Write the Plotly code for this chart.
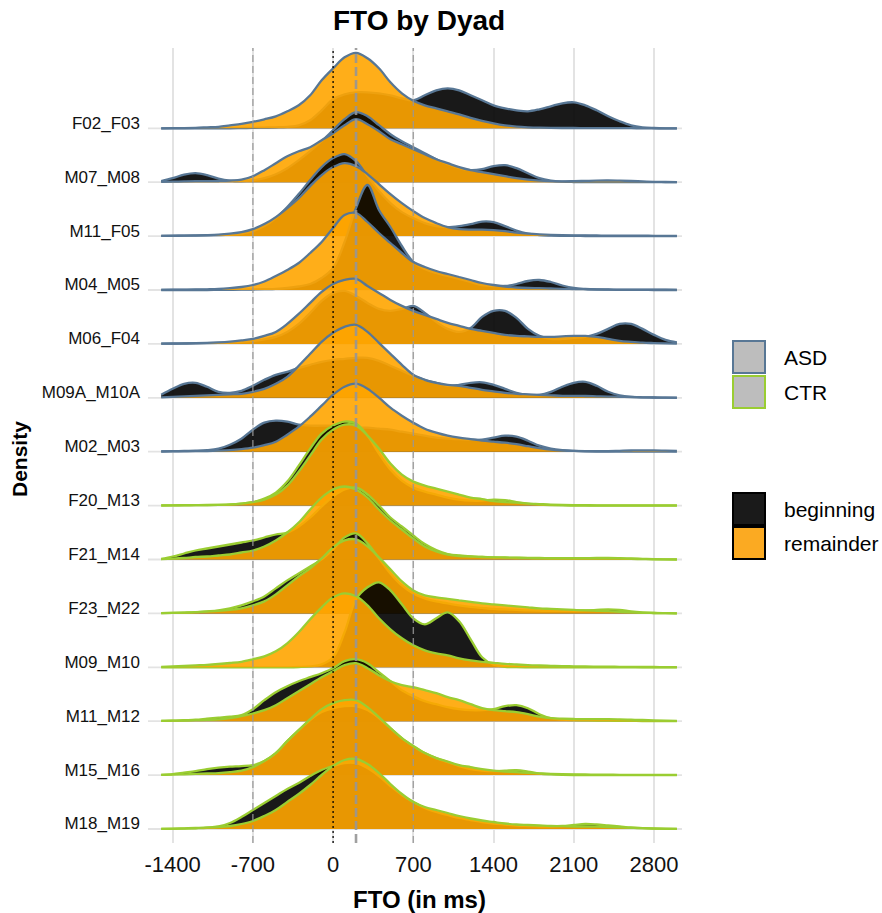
import plotly.graph_objects as go

# ---------------- data ----------------
fto_ms = list(range(-1500, 3001, 100))          # density evaluation grid (ms)
x_ticks = [-1400, -700, 0, 700, 1400, 2100, 2800]
x_tick_labels = ["-1400", "-700", "0", "700", "1400", "2100", "2800"]

dyads = ["F02_F03", "M07_M08", "M11_F05", "M04_M05", "M06_F04", "M09A_M10A", "M02_M03",
         "F20_M13", "F21_M14", "F23_M22", "M09_M10", "M11_M12", "M15_M16", "M18_M19"]
dyad_group = ["ASD"] * 7 + ["CTR"] * 7
phases = ["beginning", "remainder"]

# ridge heights (arbitrary density units) at each fto_ms point
F02_F03_beginning = [0, 0, 0, 0, 0, 0, 0, 0.2, 0.4, 0.7, 1, 1.5, 3, 8, 18, 29, 34, 36, 36, 35, 33, 30, 28, 33, 38, 40, 38, 33, 28, 23, 20, 18, 17, 19, 22, 25, 26, 23, 18, 12, 7, 3, 1, 0.3, 0, 0]
F02_F03_remainder = [0, 0.1, 0.2, 0.5, 1, 1.5, 3, 4.5, 6.5, 9, 12, 17, 23, 33, 48, 60, 71, 75.5, 70, 60, 46, 35, 27.5, 23, 20, 17, 14, 10.5, 7.5, 5, 3, 1.7, 1, 0.6, 0.4, 0.3, 0.3, 0.2, 0.2, 0.1, 0.1, 0.1, 0, 0, 0, 0]

M07_M08_beginning = [1, 4, 7.5, 9, 7, 3.5, 1.5, 1, 2, 4, 8, 14, 22, 31, 41, 52, 63, 70, 66, 57, 48, 41, 35, 29, 23, 18, 14, 12, 13, 16, 17, 14, 9, 4, 1.5, 0.5, 0.2, 0.1, 0, 0, 0, 0, 0, 0, 0, 0]
M07_M08_remainder = [0.3, 0.5, 0.8, 1, 1, 1.2, 1.6, 2.5, 6, 12, 19, 26, 31, 35, 42, 49, 57, 63, 58, 51, 43, 38, 33, 28, 23, 19, 15, 12, 10, 8, 6, 4, 2.5, 1.5, 1, 0.8, 1, 1.3, 1.6, 1.7, 1.5, 1.2, 0.8, 0.4, 0.2, 0]

M11_F05_beginning = [0.2, 0.3, 0.4, 0.5, 0.7, 1, 1.5, 2.5, 5, 10, 18, 29, 42, 56, 69, 78, 82, 75, 60, 45, 33, 24, 18, 13, 10, 9, 10, 12, 14.5, 14, 10, 5.5, 2.5, 1, 0.5, 0.3, 0.2, 0.1, 0, 0, 0, 0, 0, 0, 0, 0]
M11_F05_remainder = [0.3, 0.5, 0.5, 0.7, 1, 1.5, 2.5, 4, 7, 12, 19, 28, 38, 50, 61, 69, 73, 70, 62, 52, 42, 33, 25, 18, 13, 9, 7, 6.5, 6.5, 6, 5, 3.5, 2.5, 1.8, 1.3, 1, 0.8, 0.7, 0.6, 0.5, 0.5, 0.4, 0.4, 0.3, 0.3, 0.2]

M04_M05_beginning = [0, 0, 0, 0, 0, 0.1, 0.2, 0.3, 0.5, 0.8, 1.2, 2, 3.5, 6, 12, 22, 48, 82, 105, 80, 63, 44, 28, 21, 17, 14, 11, 8, 5, 4, 4, 6, 9, 10, 8, 4.5, 2, 1, 0.5, 0.3, 0.2, 0.1, 0.1, 0, 0, 0]
M04_M05_remainder = [0.2, 0.3, 0.4, 0.5, 0.7, 1, 1.8, 3, 5, 8.5, 14, 20, 27, 37, 48, 62, 75, 77, 68, 57, 47, 37, 28, 23, 19, 16, 13, 10, 7, 5, 3.5, 2.5, 2, 1.8, 1.5, 1.2, 1, 0.8, 0.6, 0.5, 0.4, 0.4, 0.3, 0.3, 0.3, 0.2]

M06_F04_beginning = [0.2, 0.3, 0.4, 0.5, 0.7, 1, 1.5, 2, 3, 4.5, 7, 12, 20, 31, 43, 51, 53, 48, 41, 35, 33, 35, 38, 31, 22, 15, 12, 16, 27, 33, 33, 26, 15, 8, 5, 5, 6, 7, 10, 15, 20, 20, 15, 9, 4, 1.5]
M06_F04_remainder = [0.3, 0.4, 0.5, 0.7, 1, 1.5, 2.3, 3.5, 5, 8, 12, 20, 30, 41, 52, 60, 64, 65, 58, 51, 44, 38, 33, 29, 25, 21, 18, 15, 13, 11, 9, 8, 7.5, 7, 7, 7.5, 8, 8, 7, 5, 3, 2, 1.2, 0.8, 0.5, 0.3]

M09A_M10A_beginning = [3, 9, 14, 15, 11, 6, 5, 7, 12, 18, 23, 26, 30, 33, 36, 38, 39, 40, 40, 37, 32, 27, 22, 18, 15, 12, 13, 15, 15.5, 13, 9, 5, 3, 3, 6, 11, 15, 16, 12, 6, 2.5, 1, 0.5, 0.3, 0.1, 0]
M09A_M10A_remainder = [0.5, 1, 1.5, 2, 2.5, 3, 3.5, 4, 6, 9, 14, 21, 32, 44, 56, 65, 71, 73, 66, 55, 44, 33, 23, 18, 15, 13, 12, 10, 8, 6.5, 5, 4, 3.5, 3, 2.5, 2, 2, 1.8, 1.5, 1.2, 1, 0.8, 0.5, 0.3, 0.2, 0.1]

M02_M03_beginning = [0.3, 0.5, 0.8, 1, 1.5, 3, 7, 13, 22, 29, 31, 30, 27, 26, 26, 26, 25, 24, 24, 23, 22, 20, 18, 16, 14, 13, 12.5, 12, 12, 14, 16, 15, 11, 6, 3, 1.5, 0.8, 0.4, 0.2, 0.1, 0, 0, 0, 0, 0, 0]
M02_M03_remainder = [0.2, 0.3, 0.4, 0.5, 0.7, 1, 1.5, 2.5, 4, 6.5, 10, 17, 25, 35, 46, 57, 65, 68, 63, 54, 44, 36, 29, 23, 19, 16, 14, 12.5, 11, 10, 9, 7.5, 5.5, 3.5, 2, 1.2, 0.8, 0.6, 0.5, 0.6, 0.9, 1.2, 1.4, 1.3, 1, 0.7]

F20_M13_beginning = [0.1, 0.2, 0.3, 0.4, 0.5, 0.7, 1, 2, 3.5, 7, 13, 24, 40, 57, 72, 80, 84, 82, 70, 52, 36, 25, 18, 14, 11, 8, 6, 5, 5, 6, 5.5, 3.5, 2, 1, 0.5, 0.2, 0.1, 0, 0, 0, 0, 0, 0, 0, 0, 0]
F20_M13_remainder = [0.2, 0.3, 0.4, 0.5, 0.6, 0.8, 1.2, 2, 3.5, 6, 11, 20, 34, 50, 66, 76, 81, 80, 70, 57, 42, 31, 24, 20, 17, 14, 11, 8, 6.5, 4.5, 3.5, 3, 2, 1.5, 1, 0.7, 0.5, 0.4, 0.3, 0.3, 0.2, 0.2, 0.2, 0.2, 0.2, 0.2]

F21_M14_beginning = [0.5, 3, 6, 9, 11, 13, 15, 17, 19, 22, 25, 27, 33, 42, 53, 63, 70, 72, 65, 54, 42, 33, 24, 15.5, 9.5, 5.5, 4, 3, 2.5, 2, 1.8, 1.5, 1.3, 1.2, 1, 1, 1, 1, 1, 1, 0.8, 0.6, 0.4, 0.2, 0.1, 0]
F21_M14_remainder = [0.3, 0.8, 1.5, 2.5, 3, 4, 5, 7, 9, 13, 19, 27, 37, 50, 62, 70, 73, 70, 62, 50, 39, 30, 21, 13, 8, 5, 3.5, 3, 2.5, 2.2, 2, 1.8, 1.6, 1.5, 1.4, 1.3, 1.3, 1.4, 1.5, 1.5, 1.3, 1, 0.7, 0.4, 0.2, 0.1]

F23_M22_beginning = [0.3, 0.5, 0.8, 1.2, 2, 3, 5, 8, 12, 17, 25, 33, 40, 47, 54, 64, 76, 80, 70, 55, 40, 28, 20, 15, 12, 10, 8, 6.5, 5.5, 4.5, 4, 3.5, 3, 2.7, 2.5, 2.5, 2.6, 3, 3.5, 4, 3.5, 2, 1, 0.4, 0.2, 0.1]
F23_M22_remainder = [0.3, 0.5, 0.8, 1.2, 1.8, 2.5, 3.5, 5, 8, 12, 19, 28, 37, 45, 55, 66, 73, 74, 67, 56, 44, 32, 23, 18, 16, 14.5, 13, 11.5, 10, 9, 8, 7, 6, 5, 4.5, 4, 3.5, 3, 2.6, 2.2, 1.6, 1, 0.6, 0.4, 0.2, 0.1]

M09_M10_beginning = [0, 0, 0, 0, 0, 0, 0, 0, 0, 0, 0, 0, 0.3, 1, 3, 10, 35, 68, 80, 85, 77, 63, 49, 43, 49, 55, 46, 28, 10, 2.5, 0.5, 0.1, 0, 0, 0, 0, 0, 0, 0, 0, 0, 0, 0, 0, 0, 0]
M09_M10_remainder = [0.5, 1, 1.5, 2, 2.5, 3.3, 4.3, 5.5, 8, 11, 16, 24, 35, 48, 60, 70, 74, 71, 62, 49, 38, 29, 22, 17, 14, 12, 9, 7, 5.5, 4.5, 3.5, 2.8, 2.2, 1.8, 1.5, 1.2, 1, 0.8, 0.7, 0.6, 0.5, 0.4, 0.3, 0.3, 0.2, 0.2]

M11_M12_beginning = [0.3, 0.5, 1, 1.5, 2.5, 3.5, 4.5, 6, 12, 21, 29, 35, 40, 44, 48, 53, 60, 62, 58, 49, 40, 31, 25, 20, 17, 14, 12, 11, 11, 12, 15, 16, 13, 7, 3, 1.5, 1, 0.8, 0.6, 0.5, 0.4, 0.3, 0.2, 0.1, 0.1, 0]
M11_M12_remainder = [0.3, 0.5, 0.7, 1, 1.3, 1.8, 3, 5, 7.7, 11, 16, 23, 30, 37, 44, 50, 56, 58, 53, 46, 40, 36, 34, 31, 28, 24, 21, 17, 13, 11, 10, 9, 7, 4.5, 3, 2.5, 2.2, 2, 2, 2, 1.8, 1.5, 1.2, 0.8, 0.5, 0.3]

M15_M16_beginning = [0.3, 1, 2.5, 4, 6, 7.5, 8.5, 9, 10, 14, 22, 34, 45, 55, 63, 67, 69, 69, 65, 57, 47, 37, 29, 22, 17, 13, 9, 6, 4.5, 4, 4.5, 5, 3.5, 1.5, 0.7, 0.3, 0.1, 0, 0, 0, 0, 0, 0, 0, 0, 0]
M15_M16_remainder = [0.2, 0.4, 0.8, 1.2, 1.6, 2, 3, 4.5, 8, 14, 22, 34, 45, 56, 66, 72, 75, 75, 68, 58, 47, 37, 29, 22, 17, 13.5, 10, 8, 6, 4.5, 3.5, 3, 2.3, 1.7, 1.2, 0.9, 0.7, 0.6, 0.5, 0.4, 0.3, 0.3, 0.2, 0.2, 0.2, 0.2]

M18_M19_beginning = [0.1, 0.2, 0.4, 0.7, 1.2, 2.5, 6, 12, 19, 26, 33, 40, 46, 53, 59, 63, 66, 66, 61, 53, 43, 34, 27, 21, 17, 14, 11, 9, 7, 5.5, 4.5, 3.5, 3, 2.5, 2.5, 3, 4, 5, 4.5, 3.5, 2.5, 1.5, 0.8, 0.4, 0.2, 0.1]
M18_M19_remainder = [0.2, 0.4, 0.7, 1, 1.5, 2, 3, 5, 8, 13, 19, 27, 35, 44, 54, 63, 69, 70, 65, 56, 45, 35, 27, 22, 19, 16, 13, 10.5, 8.5, 7, 5.5, 4.5, 4, 3.5, 3, 2.8, 2.5, 2.5, 2.3, 2, 1.6, 1.2, 0.8, 0.5, 0.3, 0.2]

densities = {
    "F02_F03": (F02_F03_beginning, F02_F03_remainder),
    "M07_M08": (M07_M08_beginning, M07_M08_remainder),
    "M11_F05": (M11_F05_beginning, M11_F05_remainder),
    "M04_M05": (M04_M05_beginning, M04_M05_remainder),
    "M06_F04": (M06_F04_beginning, M06_F04_remainder),
    "M09A_M10A": (M09A_M10A_beginning, M09A_M10A_remainder),
    "M02_M03": (M02_M03_beginning, M02_M03_remainder),
    "F20_M13": (F20_M13_beginning, F20_M13_remainder),
    "F21_M14": (F21_M14_beginning, F21_M14_remainder),
    "F23_M22": (F23_M22_beginning, F23_M22_remainder),
    "M09_M10": (M09_M10_beginning, M09_M10_remainder),
    "M11_M12": (M11_M12_beginning, M11_M12_remainder),
    "M15_M16": (M15_M16_beginning, M15_M16_remainder),
    "M18_M19": (M18_M19_beginning, M18_M19_remainder),
}

# ---------------- styling ----------------
FONT = "Liberation Sans, Arial, Helvetica, sans-serif"
group_line = {"ASD": "#587795", "CTR": "#9ACD32"}
phase_fill = {"beginning": "rgba(0,0,0,0.9)", "remainder": "rgba(255,165,0,0.9)"}
RIDGE_SCALE = 1 / 53.9          # density units -> row units
LABEL_LIFT = 5.5 / 53.9         # dyad labels sit a little above their baseline

W, H = 882, 913
PL, PR, PT, PB = 148, 682, 48, 843   # panel box in pixels


def px(xs):
    return (xs - PL) / (PR - PL)


def py(ys):
    return (PB - ys) / (PB - PT)


n = len(dyads)
fig = go.Figure()

for i, dyad in enumerate(dyads):          # top row first -> lower rows drawn in front
    row = n - 1 - i
    col = group_line[dyad_group[i]]
    for phase, dens in zip(phases, densities[dyad]):
        fig.add_trace(go.Scatter(
            x=[fto_ms[0], fto_ms[-1]], y=[row, row], mode="lines",
            line=dict(width=0, color="rgba(0,0,0,0)"),
            showlegend=False, hoverinfo="skip"))
        fig.add_trace(go.Scatter(
            x=fto_ms, y=[row + d * RIDGE_SCALE for d in dens], mode="lines",
            line=dict(color=col, width=2.3, shape="spline", smoothing=1),
            fill="tonexty", fillcolor=phase_fill[phase],
            name=f"{dyad} {phase}", showlegend=False))

shapes = []
# horizontal grid lines at each ridge baseline
for r in range(n):
    shapes.append(dict(type="line", xref="paper", yref="y", x0=0, x1=1, y0=r, y1=r,
                       line=dict(color="#E3E3E3", width=1.8), layer="below"))
for xv in (-700, 700):
    shapes.append(dict(type="line", xref="x", yref="paper", x0=xv, x1=xv, y0=0, y1=1,
                       line=dict(color="rgba(150,150,150,0.85)", width=1.4, dash="7px,4px"),
                       layer="above"))
shapes.append(dict(type="line", xref="x", yref="paper", x0=200, x1=200, y0=0, y1=1,
                   line=dict(color="rgba(150,150,150,0.9)", width=2.6, dash="9px,4px"),
                   layer="above"))
shapes.append(dict(type="line", xref="x", yref="paper", x0=0, x1=0, y0=0, y1=1,
                   line=dict(color="black", width=1.3, dash="2px,3px"), layer="above"))

legend_items = [
    (341, 373, "#BDBDBD", group_line["ASD"], "ASD"),
    (376, 408, "#BDBDBD", group_line["CTR"], "CTR"),
    (493, 525, "#1A1A1A", "black", "beginning"),
    (527, 559, "#FBAA22", "black", "remainder"),
]
annotations = []
for y0p, y1p, fc, lc, lab in legend_items:
    shapes.append(dict(type="rect", xref="paper", yref="paper",
                       x0=px(733), x1=px(765), y0=py(y1p), y1=py(y0p),
                       fillcolor=fc, line=dict(color=lc, width=2)))
    annotations.append(dict(text=lab, xref="paper", yref="paper", x=px(782), y=py((y0p + y1p) / 2),
                            xanchor="left", yanchor="middle", showarrow=False,
                            font=dict(family=FONT, size=21, color="black")))

annotations += [
    dict(text="<b>FTO by Dyad</b>", xref="paper", yref="paper", x=px(419), y=py(20),
         xanchor="center", yanchor="middle", showarrow=False,
         font=dict(family=FONT, size=28, color="black")),
    dict(text="<b>FTO (in ms)</b>", xref="paper", yref="paper", x=px(419), y=py(899),
         xanchor="center", yanchor="middle", showarrow=False,
         font=dict(family=FONT, size=24, color="black")),
    dict(text="<b>Density</b>", xref="paper", yref="paper", x=px(19), y=py(459),
         xanchor="center", yanchor="middle", showarrow=False, textangle=-90,
         font=dict(family=FONT, size=21, color="black")),
]

x_lo = (PL - 333.1) / 0.1146
x_hi = (PR - 333.1) / 0.1146
y_lo = -(PB - 829) / 53.9
y_hi = (829 - PT) / 53.9

fig.update_layout(
    width=W, height=H,
    margin=dict(l=PL, r=W - PR, t=PT, b=H - PB, autoexpand=False),
    plot_bgcolor="white", paper_bgcolor="white",
    showlegend=False,
    shapes=shapes, annotations=annotations,
    xaxis=dict(range=[x_lo, x_hi], tickvals=x_ticks, ticktext=x_tick_labels,
               showgrid=True, gridcolor="#E3E3E3", gridwidth=1.8, zeroline=False,
               showline=False, ticks="", ticklabelstandoff=6,
               tickfont=dict(family=FONT, size=22, color="#111111"), fixedrange=True),
    yaxis=dict(range=[y_lo, y_hi], tickvals=[r + LABEL_LIFT for r in range(n)],
               ticktext=[dyads[n - 1 - r] for r in range(n)],
               showgrid=False, zeroline=False,
               showline=False, ticks="", ticklabelstandoff=7,
               tickfont=dict(family=FONT, size=17, color="#111111"), fixedrange=True),
)

fig.write_html("out.html", config={"displayModeBar": False},
               post_script="document.body.style.margin='0';")
